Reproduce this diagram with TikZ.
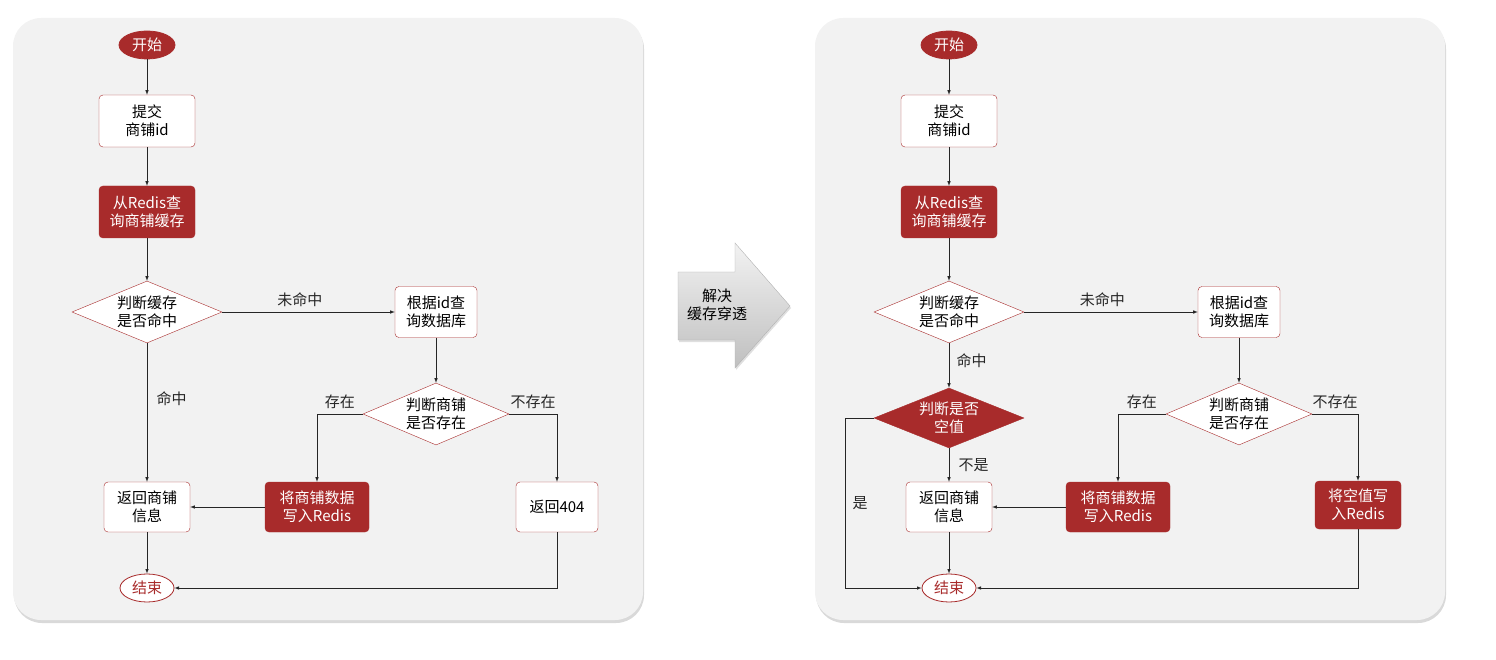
\documentclass[tikz,border=0pt]{standalone}
\usepackage{fontspec}
\setmainfont{Noto Sans CJK SC}
\usetikzlibrary{shapes.geometric,shadows,calc}
\definecolor{dr}{HTML}{A82B2B}
\definecolor{pg}{HTML}{F2F2F2}
\begin{document}
\begin{tikzpicture}[x=1pt,y=-1pt,
  panel/.style={draw=none,fill=pg,rounded corners=28pt,drop shadow={shadow xshift=1pt,shadow yshift=-3pt,opacity=0.3}},
  box/.style={draw=dr,fill=white,rounded corners=4pt,minimum width=96pt,minimum height=52pt,align=center,font=\fontsize{15}{18}\selectfont,inner sep=2pt},
  dbox/.style={box,fill=dr,text=white},
  term/.style={ellipse,draw=dr,thick,fill=dr,text=white,minimum width=56pt,minimum height=28pt,inner sep=0pt,font=\fontsize{15}{18}\selectfont},
  dia/.style={diamond,aspect=2.4,draw=dr,fill=white,minimum width=150pt,minimum height=62pt,inner sep=0pt,align=center,font=\fontsize{15}{18}\selectfont},
  ar/.style={-latex,semithick,black!85},
  lbl/.style={font=\fontsize{15}{18}\selectfont}]
\useasboundingbox (0,0) rectangle (1496,660);
\fill[panel] (13,18) rectangle (643,620);
\fill[panel] (815,18) rectangle (1445,620);
% middle arrow
\draw[gray!60,top color=gray!10,bottom color=gray!50,drop shadow={shadow xshift=1pt,shadow yshift=-2pt,opacity=0.25}]
  (678,272)--(735,272)--(735,243)--(790,306)--(735,368)--(735,340)--(678,340)--cycle;
\node[align=center,lbl] (bt) at (717,305) {解决\\缓存穿透};
% left
\node[term] (s1) at (147,45) {开始};
\node[box] (a1) at (147,121) {提交\\商铺id};
\node[dbox] (q1) at (147,212) {从Redis查\\询商铺缓存};
\node[dia] (d1) at (147,312) {判断缓存\\是否命中};
\node[box,minimum width=82pt,minimum height=51pt] (g1) at (436,312) {根据id查\\询数据库};
\node[dia,minimum width=146pt] (e1) at (436,414) {判断商铺\\是否存在};
\node[box,minimum width=86pt,minimum height=50pt] (r1) at (147,507) {返回商铺\\信息};
\node[dbox,minimum width=104pt,minimum height=50pt] (w1) at (317,507) {将商铺数据\\写入Redis};
\node[box,minimum width=82pt,minimum height=50pt] (n1) at (557,507) {返回404};
\node[term,fill=white,text=dr,minimum width=54pt] (t1) at (147,588) {结束};
\draw[ar] (s1)--(a1); \draw[ar] (a1)--(q1); \draw[ar] (q1)--(d1);
\draw[ar] (d1)--node[lbl,above,pos=0.45,yshift=2pt]{未命中}(g1);
\draw[ar] (d1)--node[lbl,right,pos=0.4,xshift=6pt]{命中}(r1);
\draw[ar] (g1)--(e1);
\draw[ar] (e1.west)-|node[lbl,above,pos=0.25,yshift=2pt]{存在}(w1);
\draw[ar] (e1.east)-|node[lbl,above,pos=0.25,yshift=2pt]{不存在}(n1);
\draw[ar] (w1)--(r1); \draw[ar] (r1)--(t1);
\draw[ar] (n1)|-(t1);
% right
\node[term] (s2) at (949,45) {开始};
\node[box] (a2) at (949,121) {提交\\商铺id};
\node[dbox] (q2) at (949,212) {从Redis查\\询商铺缓存};
\node[dia] (d2) at (949,312) {判断缓存\\是否命中};
\node[box,minimum width=82pt,minimum height=51pt] (g2) at (1239,312) {根据id查\\询数据库};
\node[dia,minimum width=146pt] (e2) at (1239,414) {判断商铺\\是否存在};
\node[dia,fill=dr,text=white,minimum height=60pt] (k2) at (949,418) {判断是否\\空值};
\node[box,minimum width=86pt,minimum height=50pt] (r2) at (949,507) {返回商铺\\信息};
\node[dbox,minimum width=104pt,minimum height=50pt] (w2) at (1118,507) {将商铺数据\\写入Redis};
\node[dbox,minimum width=86pt,minimum height=48pt] (n2) at (1358,505) {将空值写\\入Redis};
\node[term,fill=white,text=dr,minimum width=54pt] (t2) at (949,588) {结束};
\coordinate (c2) at (845,418);
\draw[ar] (s2)--(a2); \draw[ar] (a2)--(q2); \draw[ar] (q2)--(d2);
\draw[ar] (d2)--node[lbl,above,pos=0.45,yshift=2pt]{未命中}(g2);
\draw[ar] (d2)--node[lbl,right,pos=0.4,xshift=4pt]{命中}(k2);
\draw[ar] (k2)--node[lbl,right,pos=0.5,xshift=6pt]{不是}(r2);
\draw[ar] (k2.west)--(c2)|-node[lbl,pos=0.25,right,xshift=4pt]{是}(t2);
\draw[ar] (g2)--(e2);
\draw[ar] (e2.west)-|node[lbl,above,pos=0.25,yshift=2pt]{存在}(w2);
\draw[ar] (e2.east)-|node[lbl,above,pos=0.25,yshift=2pt]{不存在}(n2);
\draw[ar] (w2)--(r2); \draw[ar] (r2)--(t2);
\draw[ar] (n2)|-(t2);
\end{tikzpicture}
\end{document}
